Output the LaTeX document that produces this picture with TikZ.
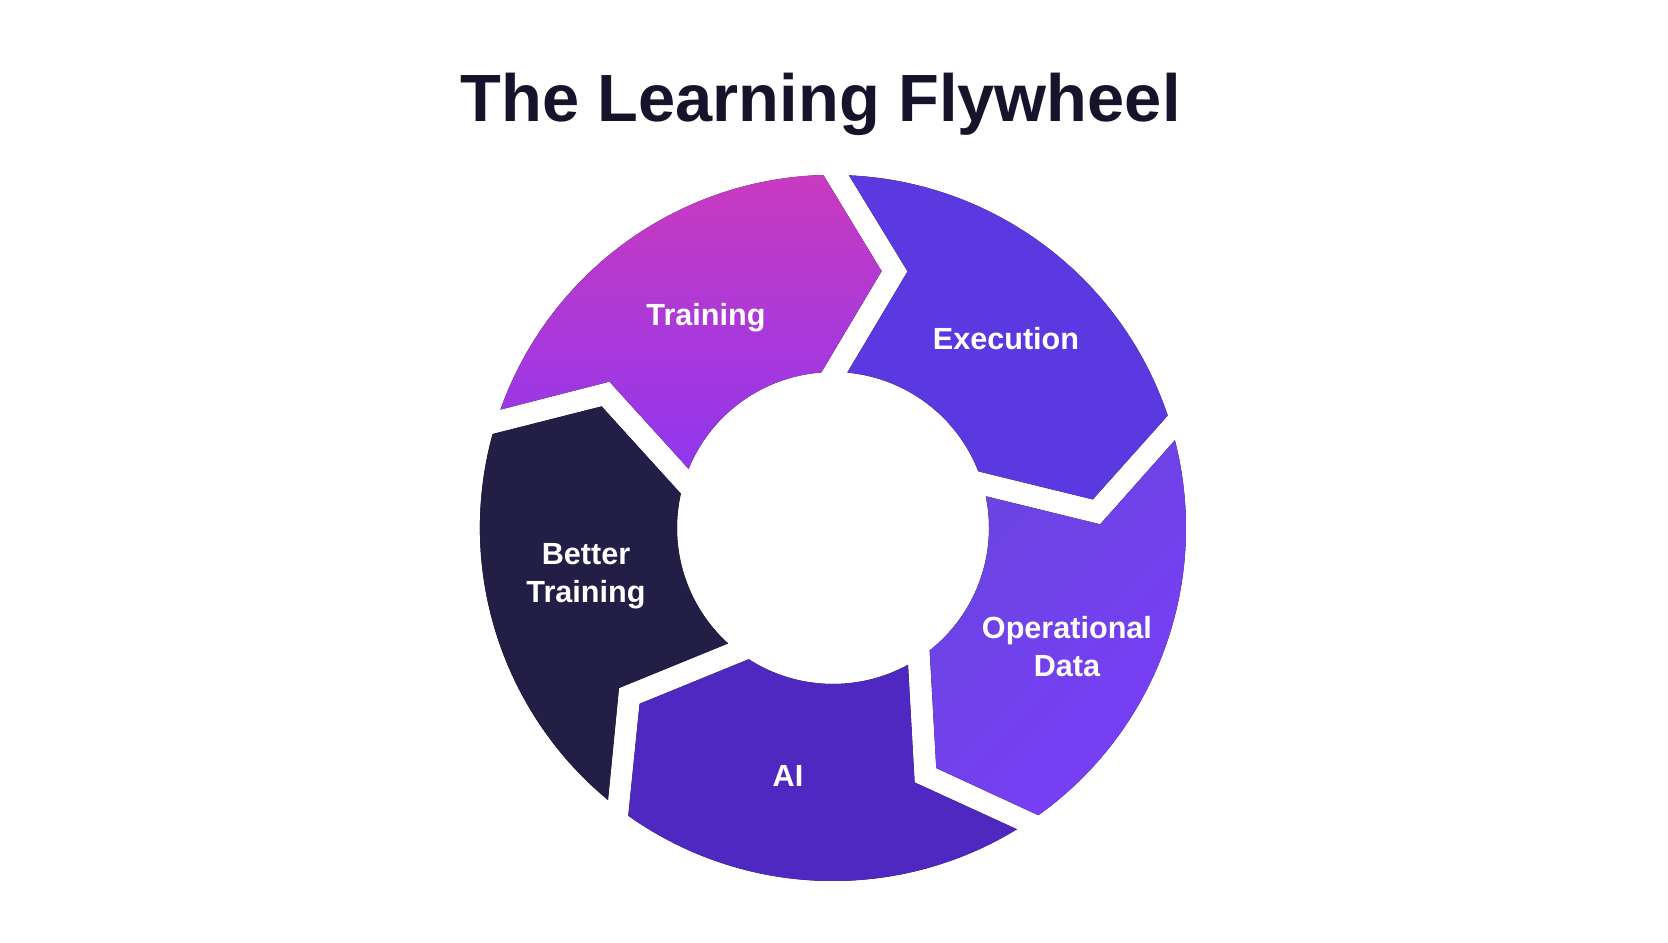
\documentclass[tikz,border=0pt]{standalone}
\usepackage{fontspec}
\setmainfont{Liberation Sans}
\usepackage{tikz}
\usetikzlibrary{calc}

\definecolor{ink}{HTML}{15142B}
\definecolor{trainTop}{HTML}{C93AC0}
\definecolor{trainBot}{HTML}{9037EE}
\definecolor{execCol}{HTML}{5A3AE0}
\definecolor{opTop}{HTML}{6A44E0}
\definecolor{opBot}{HTML}{7A3EF8}
\definecolor{aiCol}{HTML}{4E28C0}
\definecolor{betterCol}{HTML}{221E46}

\begin{document}
\begin{tikzpicture}[x=0.01cm, y=0.01cm]
  \tikzstyle{seglabel}=[text=white, font=\fontsize{8.7}{10.8}\selectfont\bfseries, align=center, inner sep=0pt]
  \tikzstyle{heading}=[text=ink, font=\fontsize{19}{23}\selectfont\bfseries, inner sep=0pt]
  \useasboundingbox (-833,-415) rectangle (835,528);
  % wheel segments: start angle / end angle / colours / shading angle
  \foreach \ts/\te/\ca/\cb/\sa in {162.5/89.5/trainTop/trainBot/0, 89.5/16.5/execCol/execCol/0, 16.5/-56.5/opTop/opBot/45, -56.5/-127.5/aiCol/aiCol/0, 232.5/162.5/betterCol/betterCol/0}
    \fill[top color=\ca, bottom color=\cb, shading angle=\sa]
      (\ts-2.1:353) arc[start angle=\ts-2.1, end angle=\te+2.1, radius=3.53cm]
      -- ($(\te-13:264)+(\te+90:13)$) -- (\te+4.8:156)
      arc[start angle=\te+4.8, end angle=\ts-4.8, radius=1.56cm]
      -- ($(\ts-13:264)+(\ts-90:13)$) -- cycle;
  % labels
  \node[heading, anchor=base] (title) at (-12.5,406) {The Learning Flywheel};
  \node[seglabel, anchor=base] (training) at (-127,202) {Training};
  \node[seglabel, anchor=base] (execution) at (173,178) {Execution};
  \node[seglabel] (opdata) at (234,-119) {Operational\\Data};
  \node[seglabel, anchor=base] (ai) at (-45,-259) {AI};
  \node[seglabel] (better) at (-247,-48) {Better\\Training};
\end{tikzpicture}
\end{document}
